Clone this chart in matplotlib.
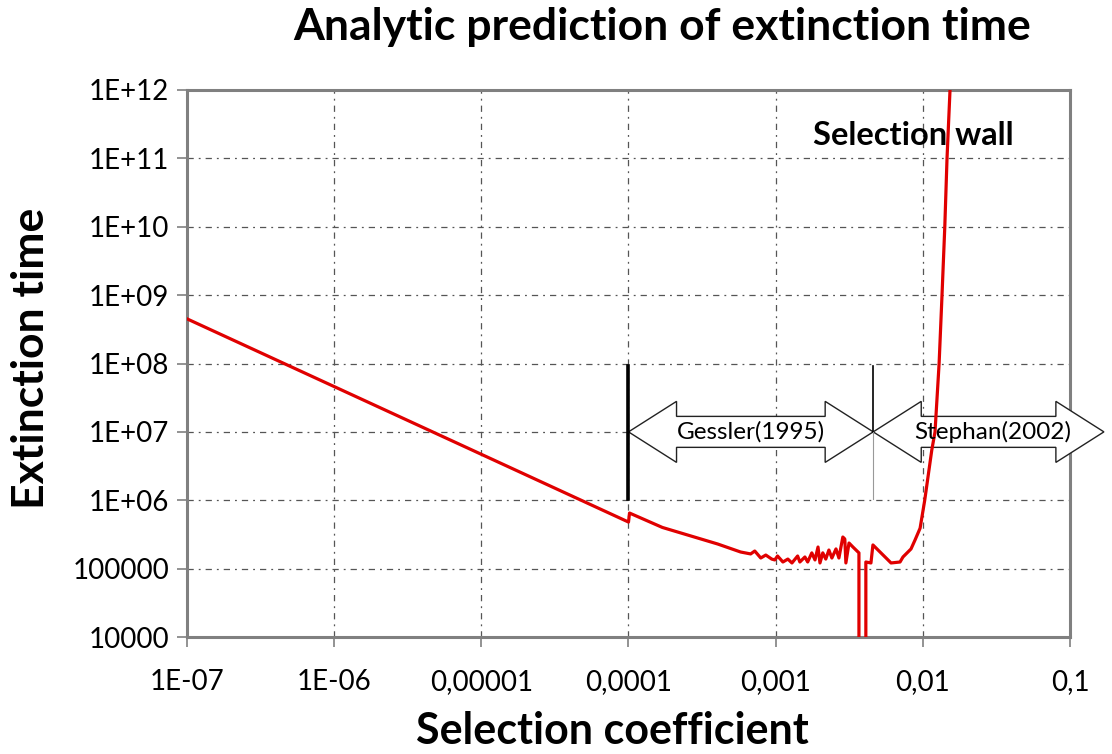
import numpy as np
import matplotlib
matplotlib.use("Agg")
import matplotlib.pyplot as plt
from matplotlib.patches import Polygon
from matplotlib.ticker import FixedLocator, FixedFormatter, NullLocator

plt.rcParams['font.family'] = ['Lato', 'DejaVu Sans']

# selection coefficient vs. predicted extinction time
sel_coef = [
    1e-7, 1e-4, 1.016e-4, 1.7e-4, 4.04e-4, 5.78e-4, 6.76e-4, 7.21e-4, 7.92e-4,
    8.57e-4, 9.4e-4, 9.86e-4, 1.03e-3, 1.12e-3, 1.21e-3, 1.29e-3, 1.41e-3,
    1.46e-3, 1.58e-3, 1.65e-3, 1.76e-3, 1.85e-3, 1.94e-3, 2.0e-3, 2.09e-3,
    2.19e-3, 2.3e-3, 2.41e-3, 2.57e-3, 2.69e-3, 2.86e-3, 2.95e-3, 3.0e-3,
    3.15e-3, 3.35e-3, 3.68e-3, 3.68e-3, 4.1e-3, 4.1e-3, 4.44e-3, 4.58e-3,
    5.8e-3, 6.08e-3, 7.0e-3, 7.33e-3, 8.31e-3, 8.85e-3, 9.58e-3, 1.03e-2,
    1.15e-2, 1.21e-2, 1.29e-2, 1.35e-2, 1.41e-2, 1.46e-2, 1.53e-2, 1.61e-2,
]
ext_time = [
    4.5e8, 4.8e5, 6.5e5, 4.0e5, 2.29e5, 1.75e5, 1.64e5, 1.81e5, 1.43e5,
    1.58e5, 1.38e5, 1.34e5, 1.53e5, 1.25e5, 1.38e5, 1.21e5, 1.53e5,
    1.25e5, 1.48e5, 1.25e5, 1.70e5, 1.34e5, 2.07e5, 1.21e5, 1.70e5,
    1.38e5, 1.87e5, 1.43e5, 1.94e5, 1.43e5, 2.90e5, 2.71e5, 1.21e5,
    2.37e5, 2.07e5, 1.70e5, 1e3, 1e3, 1.25e5, 1.21e5, 2.22e5,
    1.34e5, 1.21e5, 1.25e5, 1.48e5, 1.94e5, 2.62e5, 3.9e5, 1e6,
    5.4e6, 1e7, 1e8, 1e9, 1e10, 1e11, 1e12, 1e13,
]

x_ticks = [1e-7, 1e-6, 1e-5, 1e-4, 1e-3, 1e-2, 1e-1]
x_labels = ['1E-07', '1E-06', '0,00001', '0,0001', '0,001', '0,01', '0,1']
y_ticks = [1e4, 1e5, 1e6, 1e7, 1e8, 1e9, 1e10, 1e11, 1e12]
y_labels = ['10000', '100000', '1E+06', '1E+07', '1E+08', '1E+09',
            '1E+10', '1E+11', '1E+12']

# ranges of the two approximations
gessler_range = (1e-4, 4.6e-3)
stephan_range = (4.6e-3, 0.17)
arrow_level = 1e7

fig = plt.figure(figsize=(11.12, 7.54), dpi=100)
ax = fig.add_axes([187 / 1112, 117 / 754, 883 / 1112, 547 / 754])
ax.set_xscale('log')
ax.set_yscale('log')
ax.set_xlim(1e-7, 1e-1)
ax.set_ylim(1e4, 1e12)

ax.xaxis.set_major_locator(FixedLocator(x_ticks))
ax.xaxis.set_major_formatter(FixedFormatter(x_labels))
ax.xaxis.set_minor_locator(NullLocator())
ax.yaxis.set_major_locator(FixedLocator(y_ticks))
ax.yaxis.set_major_formatter(FixedFormatter(y_labels))
ax.yaxis.set_minor_locator(NullLocator())
ax.tick_params(axis='both', direction='out', length=7, width=1.2,
               color='#808080', labelsize=20, pad=6)
ax.tick_params(axis='x', pad=16)

for sp in ax.spines.values():
    sp.set_color('#808080')
    sp.set_linewidth(2.2)

ax.grid(True, color='#555555', linestyle=(0, (5, 4, 1.5, 4)), linewidth=0.9)
ax.set_axisbelow(True)

ax.plot(sel_coef, ext_time, color='#e00000', linewidth=2.3, zorder=3.5)


def to_frac(x, y):
    fx = (np.log10(x) + 7) / 6
    fy = (np.log10(y) - 4) / 8
    return fx, fy


def double_arrow(x0, x1, y, body=0.0283, head=0.0558, head_len=0.0544):
    a, yc = to_frac(x0, y)
    b, _ = to_frac(x1, y)
    pts = [
        (a, yc), (a + head_len, yc + head), (a + head_len, yc + body),
        (b - head_len, yc + body), (b - head_len, yc + head), (b, yc),
        (b - head_len, yc - head), (b - head_len, yc - body),
        (a + head_len, yc - body), (a + head_len, yc - head),
    ]
    poly = Polygon(pts, closed=True, transform=ax.transAxes, facecolor='white',
                   edgecolor='#222222', linewidth=1.0, zorder=3, clip_on=False)
    ax.add_patch(poly)
    return (a + b) / 2, yc


gx, gy = double_arrow(*gessler_range, arrow_level)
sx, sy = double_arrow(*stephan_range, arrow_level)
ax.text(gx, gy, 'Gessler(1995)', transform=ax.transAxes, fontsize=17.5,
        ha='center', va='center', zorder=4)
ax.text(sx + 0.005, sy, 'Stephan(2002)', transform=ax.transAxes, fontsize=17.5,
        ha='center', va='center', zorder=4)

# boundary markers
ax.plot([gessler_range[0]] * 2, [1.04e6, 9.2e7], color='black', linewidth=2.6, zorder=4)
ax.plot([gessler_range[1]] * 2, [1e7, 9.2e7], color='black', linewidth=1.2, zorder=4)
ax.plot([gessler_range[1]] * 2, [1.04e6, 1e7], color='#999999', linewidth=0.8, zorder=4)

ax.text(0.822, 0.917, 'Selection wall', transform=ax.transAxes, fontsize=23.5,
        fontweight='bold', ha='center', va='center', zorder=6)

fig.text(662 / 1112, 1 - 27 / 754, 'Analytic prediction of extinction time',
         fontsize=32, fontweight='bold', ha='center', va='center')
fig.text(612 / 1112, 1 - 731 / 754, 'Selection coefficient',
         fontsize=31, fontweight='bold', ha='center', va='center')
fig.text(31 / 1112, 1 - 358 / 754, 'Extinction time', rotation=90,
         fontsize=32, fontweight='bold', ha='center', va='center')

fig.savefig('out.png', dpi=100)
